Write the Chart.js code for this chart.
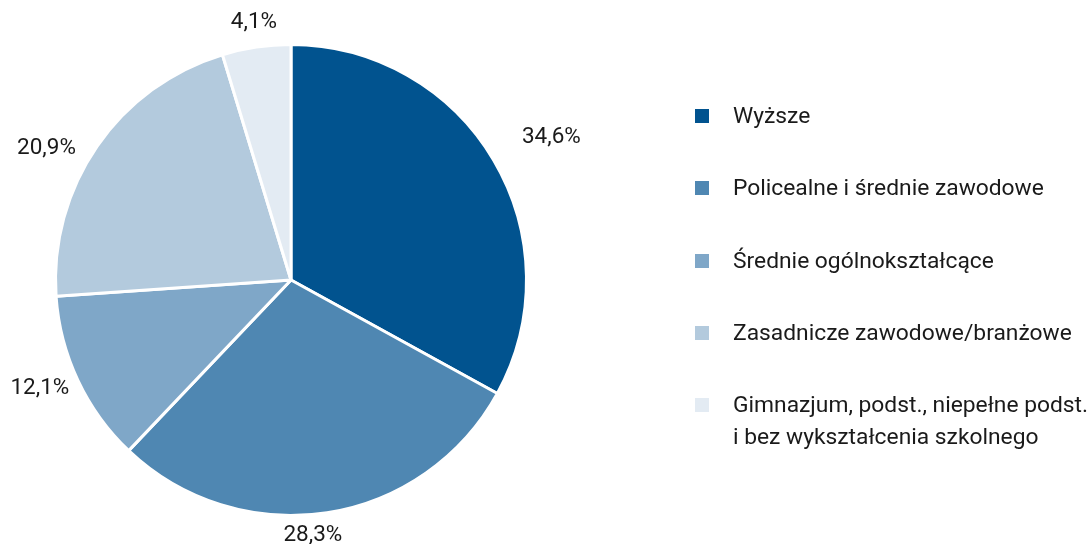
<!DOCTYPE html>
<html>
<head>
<meta charset="utf-8">
<script src="https://cdn.jsdelivr.net/npm/chart.js@4"></script>
<style>
  html, body { margin: 0; padding: 0; background: #fff; }
  #wrap { position: relative; width: 1091px; height: 544px; font-family: Roboto, sans-serif; }
  #chart { position: absolute; left: 0; top: 0; }
  #legend { position: absolute; left: 695px; top: 100px; color: #1a1a1a; font-size: 22.8px; }
  .item { position: relative; height: 72.3px; padding-left: 38px; line-height: 32px; white-space: nowrap; }
  .box { position: absolute; left: 0; top: 9px; width: 14px; height: 14px; }
</style>
</head>
<body>
<div id="wrap">
  <canvas id="chart" width="1091" height="544"></canvas>
  <div id="legend"></div>
</div>
<script>
const labels = [
    "Wyższe",
    "Policealne i średnie zawodowe",
    "Średnie ogólnokształcące",
    "Zasadnicze zawodowe/branżowe",
    ["Gimnazjum, podst., niepełne podst.", "i bez wykształcenia szkolnego"]
];
// slice sizes as drawn in the picture
const values = [33.0, 29.1, 11.8, 21.4, 4.7];
// percentages printed next to the slices
const percentLabels = ["34,6%", "28,3%", "12,1%", "20,9%", "4,1%"];
const colors = ["#01538f", "#4f87b2", "#7fa7c8", "#b3cadd", "#e3ebf3"];

// legend on the right, built from the same arrays
const legend = document.getElementById("legend");
labels.forEach((lab, i) => {
    let lines = Array.isArray(lab) ? lab : [lab];
    legend.innerHTML += `<div class="item"><span class="box" style="background:${colors[i]}"></span>${lines.join("<br>")}</div>`;
});

// percentage labels outside the slices
const outsideLabels = {
    id: "outsideLabels",
    afterDatasetsDraw(chart, args, opts) {
        const ctx = chart.ctx;
        const meta = chart.getDatasetMeta(0);
        const nudge = opts.nudge || [];
        ctx.save();
        ctx.font = "22.5px Roboto";
        ctx.fillStyle = "#1a1a1a";
        ctx.textAlign = "center";
        ctx.textBaseline = "middle";
        meta.data.forEach((arc, i) => {
            const p = arc.getProps(["x", "y", "startAngle", "endAngle", "outerRadius"], true);
            const mid = (p.startAngle + p.endAngle) / 2;
            const ux = Math.cos(mid), uy = Math.sin(mid);
            const txt = percentLabels[i];
            const w = ctx.measureText(txt).width;
            const d = p.outerRadius + 12 + Math.abs(ux) * w / 2 + Math.abs(uy) * 8;
            const n = nudge[i] || [0, 0];
            ctx.fillText(txt, p.x + ux * d + n[0], p.y + uy * d + n[1]);
        });
        ctx.restore();
    }
};

new Chart(document.getElementById("chart"), {
    type: "pie",
    data: {
        labels: labels,
        datasets: [{
            data: values,
            backgroundColor: colors,
            borderColor: "#ffffff",
            borderWidth: 3
        }]
    },
    options: {
        responsive: false,
        animation: false,
        layout: { padding: { left: 54, right: 563, top: 43, bottom: 27 } },
        plugins: {
            legend: { display: false },
            tooltip: { enabled: false },
            outsideLabels: { nudge: [[22, -2], [-18, -1], [0, -10], [-17, 25], [1, -2]] }
        }
    },
    plugins: [outsideLabels]
});
</script>
</body>
</html>
